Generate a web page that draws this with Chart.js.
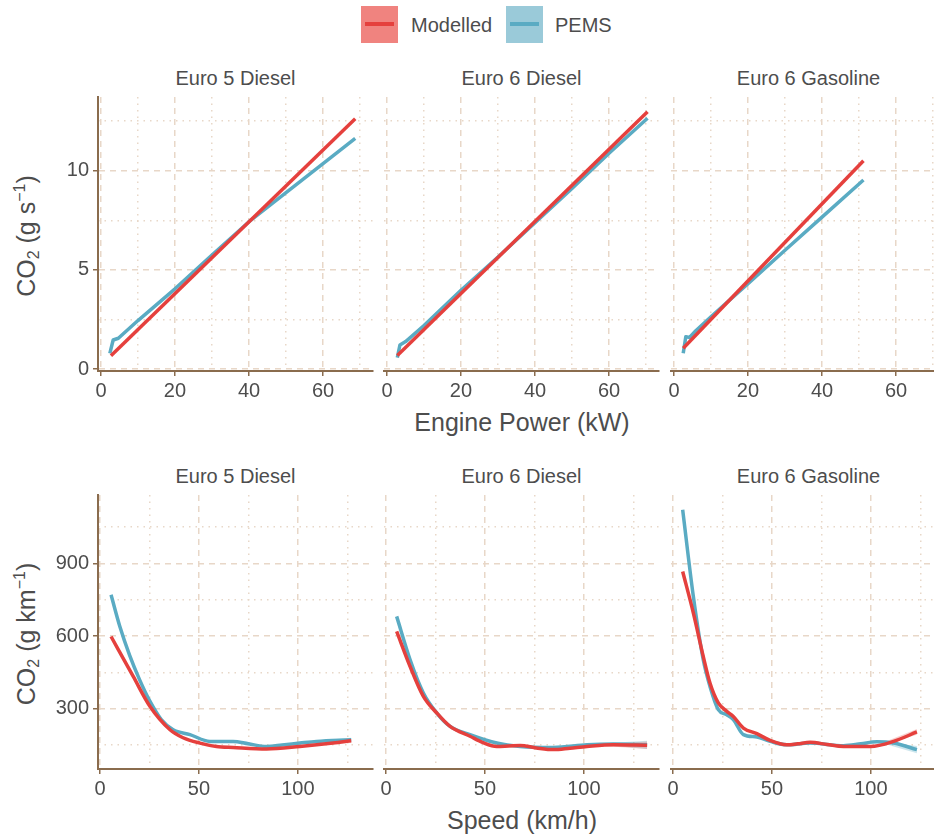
<!DOCTYPE html>
<html>
<head>
<meta charset="utf-8">
<script src="https://cdn.jsdelivr.net/npm/chart.js@4/dist/chart.umd.min.js"></script>
<style>
  html, body { margin: 0; padding: 0; background: #fff; }
  body { width: 934px; height: 835px; overflow: hidden; position: relative;
         font-family: "Liberation Sans", Arial, Helvetica, sans-serif; color: #4d4d4d; }
  canvas { position: absolute; }
  .t { position: absolute; white-space: nowrap; transform: translate(-50%, -50%); line-height: 1; }
  .strip { font-size: 20px; }
  .axt { font-size: 25px; }
  .yt { transform: translate(-50%, -50%) rotate(-90deg); }
  .yt sub { font-size: 16px; vertical-align: -4px; line-height: 0; }
  .yt sup { font-size: 16px; vertical-align: 10px; line-height: 0; }
  .key { position: absolute; width: 37px; height: 37px; top: 6px; }
  .key i { position: absolute; left: 4px; right: 4px; top: 16px; height: 4px; }
  .lg { position: absolute; top: 25px; font-size: 20px; transform: translateY(-50%); line-height: 1; }
</style>
</head>
<body>
  <div class="key" style="left:361px;background:#F0837F"><i style="background:#E5403D"></i></div>
  <div class="lg" style="left:411px">Modelled</div>
  <div class="key" style="left:506px;background:#9ACAD9"><i style="background:#5AABC3"></i></div>
  <div class="lg" style="left:555px">PEMS</div>

  <div class="t strip" style="left:235.5px;top:78px">Euro 5 Diesel</div>
  <div class="t strip" style="left:521.5px;top:78px">Euro 6 Diesel</div>
  <div class="t strip" style="left:808.5px;top:78px">Euro 6 Gasoline</div>
  <div class="t strip" style="left:235.5px;top:476px">Euro 5 Diesel</div>
  <div class="t strip" style="left:521.5px;top:476px">Euro 6 Diesel</div>
  <div class="t strip" style="left:808.5px;top:476px">Euro 6 Gasoline</div>

  <div class="t axt" style="left:522px;top:422px">Engine Power (kW)</div>
  <div class="t axt" style="left:522px;top:820px">Speed (km/h)</div>
  <div class="t axt yt" style="left:26px;top:236px">CO<sub>2</sub> (g s<sup>−1</sup>)</div>
  <div class="t axt yt" style="left:26px;top:634px">CO<sub>2</sub> (g km<sup>−1</sup>)</div>

<script>
// ---- axis breaks and limits ----
const powerTicks = [0, 20, 40, 60];
const powerMinor = [10, 30, 50, 70];
const powerRange = [-0.8, 73.5];
const gsTicks = [0, 5, 10];
const gsMinor = [2.5, 7.5, 12.5];
const gsRange = [-0.09, 13.71];
const speedTicks = [0, 50, 100];
const speedMinor = [25, 75, 125];
const speedRange = [-1, 138];
const gkmTicks = [300, 600, 900];
const gkmMinor = [150, 450, 750, 1050];
const gkmRange = [51, 1182];

// ---- CO2 (g/s) against engine power (kW) ----
const pwrE5dModelled = [[2.7, 0.68], [68.7, 12.62]];
const pwrE5dPems = [[2.4, 0.8], [3.3, 1.47], [4.7, 1.56], [10, 2.45], [20, 4.05], [30, 5.75],
                    [40, 7.43], [50, 8.9], [60, 10.35], [68.7, 11.63]];
const pwrE6dModelled = [[2.8, 0.69], [70.4, 12.97]];
const pwrE6dPems = [[2.8, 0.58], [3.5, 1.22], [5.05, 1.39], [10, 2.2], [20, 3.98], [30, 5.65],
                    [40, 7.38], [50, 9.1], [60, 10.88], [70.4, 12.64]];
const pwrE6gModelled = [[2.5, 1.06], [51.2, 10.5]];
const pwrE6gPems = [[2.5, 0.8], [3.2, 1.64], [4.2, 1.6], [5.9, 1.94], [10, 2.64], [20, 4.31],
                    [30, 5.99], [40, 7.66], [51.2, 9.53]];

// ---- CO2 (g/km) against speed (km/h) ----
const spdE5dModelled = [[5.6, 598], [16.8, 433], [25.3, 309], [35.4, 213], [42, 180],
                        [50.5, 158], [58.9, 144], [67.3, 140], [84.2, 134], [101, 144],
                        [117.8, 158], [127, 168]];
const spdE5dPems = [[5.6, 770], [10, 640], [15, 520], [20, 420], [25.3, 330], [31, 255], [37, 213],
                    [45.5, 193], [55.6, 165], [67.3, 165], [75, 155], [84.2, 144], [92, 150],
                    [101, 158], [109.4, 165], [127, 172]];
const spdE6dModelled = [[5.4, 619], [12.2, 474], [18.9, 351], [25.7, 282], [32.4, 227],
                        [42.5, 186], [49, 160], [56, 144], [62, 146], [67.8, 148], [76, 138],
                        [84.7, 131], [93, 137], [101.6, 144], [115, 151], [132, 149]];
const spdE6dPems = [[5.4, 681], [12.2, 502], [18.9, 365], [25.7, 282], [32.4, 227], [42.5, 193],
                    [56, 158], [67.8, 144], [84.7, 140], [101.6, 151], [115, 154], [132, 151]];
const spdE6gModelled = [[4.9, 866], [10.3, 695], [15.3, 516], [18.7, 406], [22.9, 324],
                        [27.2, 289], [30.5, 268], [35.6, 220], [42.4, 197], [49.1, 169],
                        [57.5, 151], [63, 155], [69.3, 161], [78, 152], [86.2, 144],
                        [99.9, 144], [111.5, 165], [123.3, 204]];
const spdE6gPems = [[4.9, 1121], [10.3, 763], [15.3, 502], [18.7, 392], [22.9, 296], [27.2, 275],
                    [30.5, 255], [35.6, 193], [42.4, 183], [49.1, 165], [57.5, 151], [69.3, 158],
                    [86.2, 147], [95, 155], [103, 163], [111.5, 158], [123.3, 131]];

// confidence bands of the smooths near the upper end: [x, lower, upper]
const spdE5dModelledBand = [[110, 148, 154], [127, 160, 176]];
const spdE5dPemsBand = [[110, 163, 169], [127, 164, 180]];
const spdE6dModelledBand = [[110, 146, 152], [132, 134, 164]];
const spdE6dPemsBand = [[110, 150, 157], [132, 134, 168]];
const spdE6gModelledBand = [[105, 150, 156], [123.3, 192, 216]];
const spdE6gPemsBand = [[105, 159, 165], [123.3, 116, 146]];

// ---- styling ----
const RED = '#E5403D', BLUE = '#5AABC3';
const RED_BAND = 'rgba(229,64,61,0.25)', BLUE_BAND = 'rgba(90,171,195,0.3)';
const GRID = '#E8D7C8', AXIS = '#8A6C4E', TXT = '#4d4d4d';
const FONT = '"Liberation Sans", Arial, Helvetica, sans-serif';
const PANEL_W = 275, PANEL_H = 274;
const COL_LEFT = [98, 384, 671];
const ROW_TOP = [97, 495];
const PAD_L = 70, PAD_R = 20, PAD_T = 20, AX_H = 50;

const toXY = pts => pts.map(p => ({x: p[0], y: p[1]}));

function lineSet(pts, color, order, smooth) {
  return {
    data: toXY(pts), borderColor: color, borderWidth: 3.5, pointRadius: 0, fill: false,
    tension: smooth ? 0.4 : 0, cubicInterpolationMode: smooth ? 'monotone' : 'default',
    order: order, borderCapStyle: 'butt', borderJoinStyle: 'round'
  };
}

function bandSets(band, color, order) {
  return [
    { data: band.map(b => ({x: b[0], y: b[1]})), borderWidth: 0, pointRadius: 0, fill: false,
      borderColor: 'rgba(0,0,0,0)', order: order },
    { data: band.map(b => ({x: b[0], y: b[2]})), borderWidth: 0, pointRadius: 0, fill: '-1',
      borderColor: 'rgba(0,0,0,0)', backgroundColor: color, order: order }
  ];
}

function fixedTicks(values) {
  return scale => { scale.ticks = values.map(v => ({value: v})); };
}

function panel(col, row, xr, xt, xm, yr, yt, ym, datasets) {
  const cv = document.createElement('canvas');
  const w = PAD_L + PANEL_W + PAD_R, h = PAD_T + PANEL_H + AX_H;
  cv.width = w; cv.height = h;
  cv.style.width = w + 'px'; cv.style.height = h + 'px';
  cv.style.left = (COL_LEFT[col] - PAD_L) + 'px';
  cv.style.top = (ROW_TOP[row] - PAD_T) + 'px';
  document.body.appendChild(cv);
  const first = col === 0;
  new Chart(cv, {
    type: 'line',
    data: { datasets: datasets },
    options: {
      responsive: false, animation: false, devicePixelRatio: 1,
      layout: { padding: { left: first ? 0 : PAD_L, right: PAD_R, top: PAD_T, bottom: 0 } },
      plugins: { legend: { display: false }, tooltip: { enabled: false } },
      scales: {
        x: {
          type: 'linear', position: 'bottom', min: xr[0], max: xr[1], bounds: 'data',
          afterBuildTicks: fixedTicks(xt), afterFit: s => { s.height = AX_H; },
          grid: { color: GRID, lineWidth: 1.5, drawTicks: true, tickLength: 5,
                  tickColor: AXIS, tickWidth: 1.5 },
          border: { display: true, color: AXIS, width: 2, dash: [6, 5] },
          ticks: { color: TXT, font: { family: FONT, size: 20 }, padding: 3,
                   maxRotation: 0, autoSkip: false, callback: v => String(v) }
        },
        xm: {
          type: 'linear', position: 'bottom', min: xr[0], max: xr[1], bounds: 'data',
          afterBuildTicks: fixedTicks(xm), afterFit: s => { s.height = 0; },
          grid: { color: GRID, lineWidth: 1.5, drawTicks: false },
          border: { display: false, dash: [1.5, 5] },
          ticks: { display: false }
        },
        y: {
          type: 'linear', position: 'left', min: yr[0], max: yr[1], bounds: 'data',
          afterBuildTicks: fixedTicks(yt), afterFit: s => { s.width = first ? PAD_L : 0; },
          grid: { color: GRID, lineWidth: 1.5, drawTicks: first, tickLength: 5,
                  tickColor: AXIS, tickWidth: 1.5 },
          border: { display: first, color: AXIS, width: 2, dash: [6, 5] },
          ticks: { display: first, color: TXT, font: { family: FONT, size: 20 }, padding: 4,
                   autoSkip: false, callback: v => String(v) }
        },
        ym: {
          type: 'linear', position: 'left', min: yr[0], max: yr[1], bounds: 'data',
          afterBuildTicks: fixedTicks(ym), afterFit: s => { s.width = 0; },
          grid: { color: GRID, lineWidth: 1.5, drawTicks: false },
          border: { display: false, dash: [1.5, 5] },
          ticks: { display: false }
        }
      }
    }
  });
}

// engine power row
panel(0, 0, powerRange, powerTicks, powerMinor, gsRange, gsTicks, gsMinor,
      [lineSet(pwrE5dModelled, RED, 0, false), lineSet(pwrE5dPems, BLUE, 1, false)]);
panel(1, 0, powerRange, powerTicks, powerMinor, gsRange, gsTicks, gsMinor,
      [lineSet(pwrE6dModelled, RED, 0, false), lineSet(pwrE6dPems, BLUE, 1, false)]);
panel(2, 0, powerRange, powerTicks, powerMinor, gsRange, gsTicks, gsMinor,
      [lineSet(pwrE6gModelled, RED, 0, false), lineSet(pwrE6gPems, BLUE, 1, false)]);

// speed row
panel(0, 1, speedRange, speedTicks, speedMinor, gkmRange, gkmTicks, gkmMinor,
      [lineSet(spdE5dModelled, RED, 0, true), lineSet(spdE5dPems, BLUE, 1, true),
       ...bandSets(spdE5dModelledBand, RED_BAND, 2), ...bandSets(spdE5dPemsBand, BLUE_BAND, 3)]);
panel(1, 1, speedRange, speedTicks, speedMinor, gkmRange, gkmTicks, gkmMinor,
      [lineSet(spdE6dModelled, RED, 0, true), lineSet(spdE6dPems, BLUE, 1, true),
       ...bandSets(spdE6dModelledBand, RED_BAND, 2), ...bandSets(spdE6dPemsBand, BLUE_BAND, 3)]);
panel(2, 1, speedRange, speedTicks, speedMinor, gkmRange, gkmTicks, gkmMinor,
      [lineSet(spdE6gModelled, RED, 0, true), lineSet(spdE6gPems, BLUE, 1, true),
       ...bandSets(spdE6gModelledBand, RED_BAND, 2), ...bandSets(spdE6gPemsBand, BLUE_BAND, 3)]);
</script>
</body>
</html>
